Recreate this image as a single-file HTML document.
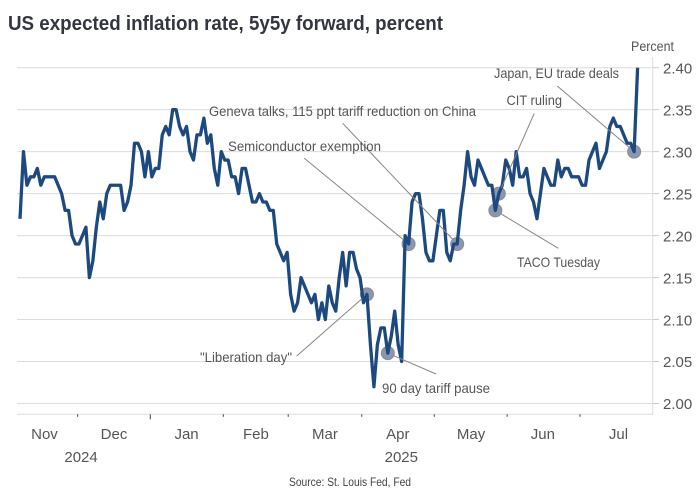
<!DOCTYPE html>
<html lang="en">
<head>
<meta charset="utf-8">
<title>US expected inflation rate, 5y5y forward, percent</title>
<style>
html,body{margin:0;padding:0;background:#fff;width:700px;height:500px;overflow:hidden}
svg{display:block;font-family:"Liberation Sans",sans-serif}
.ann{font-size:14px;fill:#555}
.tick{font-size:15px;fill:#555}
</style>
</head>
<body>
<svg id="chart" width="700" height="500" viewBox="0 0 700 500" xmlns="http://www.w3.org/2000/svg">
  <rect width="700" height="500" fill="#fff"/>
  <text x="8" y="30" font-size="20" font-weight="700" fill="#33363f" textLength="435" lengthAdjust="spacingAndGlyphs">US expected inflation rate, 5y5y forward, percent</text>
  <g id="grid"></g>
  <g id="axes"></g>
  <g id="markers"></g>
  <g id="series"></g>
  <g id="connectors"></g>
  <text x="631" y="51" font-size="14" fill="#555" textLength="43" lengthAdjust="spacingAndGlyphs">Percent</text>
  <text class="ann" x="494" y="78" textLength="125" lengthAdjust="spacingAndGlyphs">Japan, EU trade deals</text>
  <text class="ann" x="506.5" y="105" textLength="55.5" lengthAdjust="spacingAndGlyphs">CIT ruling</text>
  <text class="ann" x="209" y="116" textLength="267" lengthAdjust="spacingAndGlyphs">Geneva talks, 115 ppt tariff reduction on China</text>
  <text class="ann" x="228" y="151" textLength="153" lengthAdjust="spacingAndGlyphs">Semiconductor exemption</text>
  <text class="ann" x="517" y="267" textLength="83" lengthAdjust="spacingAndGlyphs">TACO Tuesday</text>
  <text class="ann" x="200" y="362" textLength="92" lengthAdjust="spacingAndGlyphs">"Liberation day"</text>
  <text class="ann" x="382" y="393" textLength="108" lengthAdjust="spacingAndGlyphs">90 day tariff pause</text>
  <text x="289" y="486" font-size="12" fill="#444" textLength="122" lengthAdjust="spacingAndGlyphs">Source: St. Louis Fed, Fed</text>
</svg>
<script>
const values = [
2.22,2.30,2.26,2.27,2.27,2.28,2.26,2.27,2.27,2.27,
2.27,2.26,2.25,2.23,2.23,2.20,2.19,2.19,2.20,2.21,
2.15,2.17,2.21,2.24,2.22,2.25,2.26,2.26,2.26,2.26,
2.23,2.24,2.26,2.31,2.31,2.30,2.27,2.30,2.27,2.28,
2.28,2.32,2.33,2.32,2.35,2.35,2.33,2.32,2.33,2.30,
2.29,2.32,2.32,2.34,2.31,2.32,2.28,2.26,2.30,2.29,
2.29,2.27,2.27,2.25,2.28,2.28,2.26,2.24,2.24,2.25,
2.24,2.24,2.23,2.23,2.19,2.18,2.17,2.18,2.13,2.11,
2.12,2.15,2.14,2.13,2.12,2.13,2.10,2.12,2.10,2.14,
2.12,2.11,2.15,2.18,2.14,2.18,2.18,2.16,2.15,2.12,
2.13,2.07,2.02,2.07,2.09,2.09,2.06,2.08,2.11,2.07,
2.05,2.20,2.19,2.24,2.25,2.25,2.22,2.18,2.17,2.17,
2.20,2.23,2.23,2.18,2.17,2.19,2.19,2.23,2.26,2.30,
2.27,2.26,2.29,2.28,2.27,2.26,2.26,2.23,2.25,2.26,
2.29,2.28,2.26,2.30,2.27,2.27,2.28,2.25,2.24,2.22,
2.25,2.28,2.27,2.26,2.26,2.29,2.27,2.28,2.28,2.27,
2.27,2.27,2.26,2.26,2.29,2.30,2.31,2.28,2.29,2.30,
2.33,2.34,2.33,2.33,2.32,2.31,2.31,2.30,2.40
];
const yTicks = [2.00,2.05,2.10,2.15,2.20,2.25,2.30,2.35,2.40];
const yTickLabels = ["2.00","2.05","2.10","2.15","2.20","2.25","2.30","2.35","2.40"];
const monthLabels = ["Nov","Dec","Jan","Feb","Mar","Apr","May","Jun","Jul"];
const monthCenters = [7.05,27.1,48,68,87.9,108.9,130,150.7,172.5];
const monthTicks = [16.62,37.55,58.6,77.3,98.5,119.4,140.4,161.4];
const yearBoundaryTick = 37.55;
const yearLabels = ["2024","2025"];
const yearCenters = [17.6,109.9];
const eventIndex = [100,106,112,126,137,138,177];
const eventNames = ["liberation-day","90-day-pause","semiconductor-exemption","geneva-talks","taco-tuesday","cit-ruling","japan-eu-deals"];

const NS = "http://www.w3.org/2000/svg";
const xDomain = [0,178], xRange = [20,637.6];
const yDomain = [2.00,2.40], yRange = [403.5,67.7];
const plotLeft = 17, plotRight = 652.7, plotBottom = 414.3, plotTop = 57;
const markerRadius = 6.5;
function xScale(i){ return xRange[0] + (i - xDomain[0]) * (xRange[1] - xRange[0]) / (xDomain[1] - xDomain[0]); }
function yScale(v){ return yRange[0] + (v - yDomain[0]) * (yRange[1] - yRange[0]) / (yDomain[1] - yDomain[0]); }
function mk(tag, attrs, parent, text){
  const el = document.createElementNS(NS, tag);
  for (const k in attrs) el.setAttribute(k, attrs[k]);
  if (text !== undefined) el.textContent = text;
  parent.appendChild(el);
  return el;
}
const grid = document.getElementById("grid");
const axes = document.getElementById("axes");
const series = document.getElementById("series");
const markers = document.getElementById("markers");
const connectors = document.getElementById("connectors");

yTicks.forEach(function(t, k){
  const y = yScale(t);
  const g = mk("line", {x1:plotLeft, x2:plotRight, y1:y, y2:y, stroke:"#dcdcdc", "stroke-width":1}, grid);
  
  
  const m = mk("line", {x1:plotRight, x2:659, y1:y, y2:y, stroke:"#c8c8c8", "stroke-width":1}, axes);
  
  
  const l = mk("text", {x:663, y:y+5.7, "class":"tick"}, axes, yTickLabels[k]);
  
  
});
const xAxis = mk("line", {x1:plotLeft, x2:plotRight, y1:plotBottom, y2:plotBottom, stroke:"#dcdcdc", "stroke-width":1}, axes);


const yAxis = mk("line", {x1:plotRight, x2:plotRight, y1:plotTop, y2:plotBottom, stroke:"#dcdcdc", "stroke-width":1}, axes);


monthTicks.forEach(function(t){
  const x = xScale(t);
  const len = t === yearBoundaryTick ? 5 : 2.5;
  const m = mk("line", {x1:x, x2:x, y1:plotBottom, y2:plotBottom+len, stroke:"#444", "stroke-width":1}, axes);
  
  
});
monthLabels.forEach(function(lbl, k){
  const l = mk("text", {x:xScale(monthCenters[k]), y:439, "text-anchor":"middle", "class":"tick"}, axes, lbl);
  
  
});
yearLabels.forEach(function(lbl, k){
  const l = mk("text", {x:xScale(yearCenters[k]), y:462, "text-anchor":"middle", "class":"tick"}, axes, lbl);
  
  
});

eventIndex.forEach(function(i, k){
  const c = mk("circle", {cx:xScale(i), cy:yScale(values[i]), r:markerRadius, fill:"#8a97ae", stroke:"#8b8b8b", "stroke-width":1}, markers);
  
  
});

const d = values.map(function(v, i){ return (i ? "L" : "M") + xScale(i).toFixed(2) + " " + yScale(v).toFixed(2); }).join("");
const path = mk("path", {d:d, fill:"none", stroke:"#1c4a80", "stroke-width":3.3, "stroke-linejoin":"round"}, series);



/* label-side anchor of each connector, paired with the event it points to */
const connectorLabelEnds = {
  "liberation-day":[296.7,356],
  "90-day-pause":[436,374],
  "semiconductor-exemption":[304.3,158.3],
  "geneva-talks":[342.7,123.3],
  "taco-tuesday":[558.3,248.3],
  "cit-ruling":[534.3,113.3],
  "japan-eu-deals":[557.3,86]
};
eventIndex.forEach(function(i, k){
  const a = connectorLabelEnds[eventNames[k]];
  const tx = xScale(i), ty = yScale(values[i]);
  const dist = Math.hypot(tx - a[0], ty - a[1]);
  const ex = tx - (tx - a[0]) * markerRadius / dist;
  const ey = ty - (ty - a[1]) * markerRadius / dist;
  const l = mk("line", {x1:a[0], y1:a[1], x2:ex, y2:ey, stroke:"#858585", "stroke-width":1}, connectors);
  
  
});
</script>
</body>
</html>
